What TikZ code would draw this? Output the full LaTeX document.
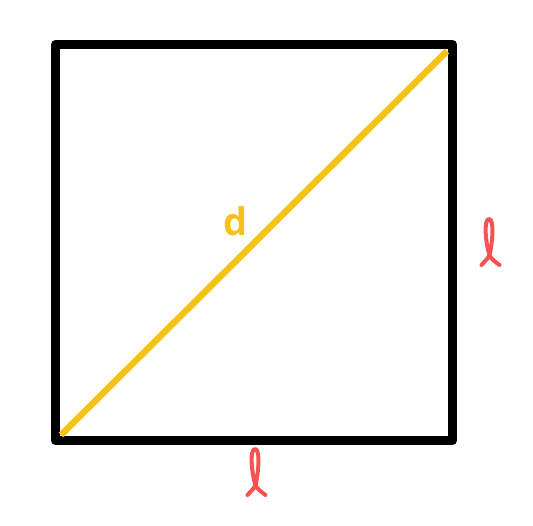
\documentclass[tikz,border=0pt]{standalone}
\usepackage{fontspec}
\setmainfont{Open Sans}
\definecolor{sqyellow}{RGB}{245,194,22}
\definecolor{ellred}{RGB}{246,82,82}
\tikzset{
  sqline/.style={line width=9pt,line join=round,line cap=round},
  diag/.style={line width=6.5pt,draw=sqyellow},
  ellpath/.style={line width=4pt,draw=ellred,line cap=round,line join=round},
  lbl/.style={text=sqyellow,font=\bfseries\fontsize{38}{38}\selectfont,inner sep=0pt},
  pics/ell/.style={code={
    \draw[ellpath] (-7.5,10) .. controls (-4,6) and (-0.5,3) .. (0.5,0)
      .. controls (3.5,-12) and (5.5,-36) .. (0,-36)
      .. controls (-5.5,-36) and (-3.5,-12) .. (0.5,0)
      .. controls (2,4) and (6.5,7) .. (10.5,10);
  }}
}
\begin{document}
\begin{tikzpicture}[x=1pt,y=-1pt]
\useasboundingbox (0,0) rectangle (533,525);
\coordinate (tl) at (55.5,44.5);
\coordinate (tr) at (452.5,44.5);
\coordinate (br) at (452.5,440.5);
\coordinate (bl) at (55.5,440.5);
\draw[sqline] (tl) -- (tr) -- (br) -- (bl) -- cycle;
\coordinate (d1) at (61,435);
\coordinate (d2) at (447,51);
\draw[diag] (d1) -- (d2);
\node[lbl] (dlabel) at (236,221) {d};
\pic (ellright) at (489,255) {ell};
\pic (ellbottom) at (255,485) {ell};
\end{tikzpicture}
\end{document}
